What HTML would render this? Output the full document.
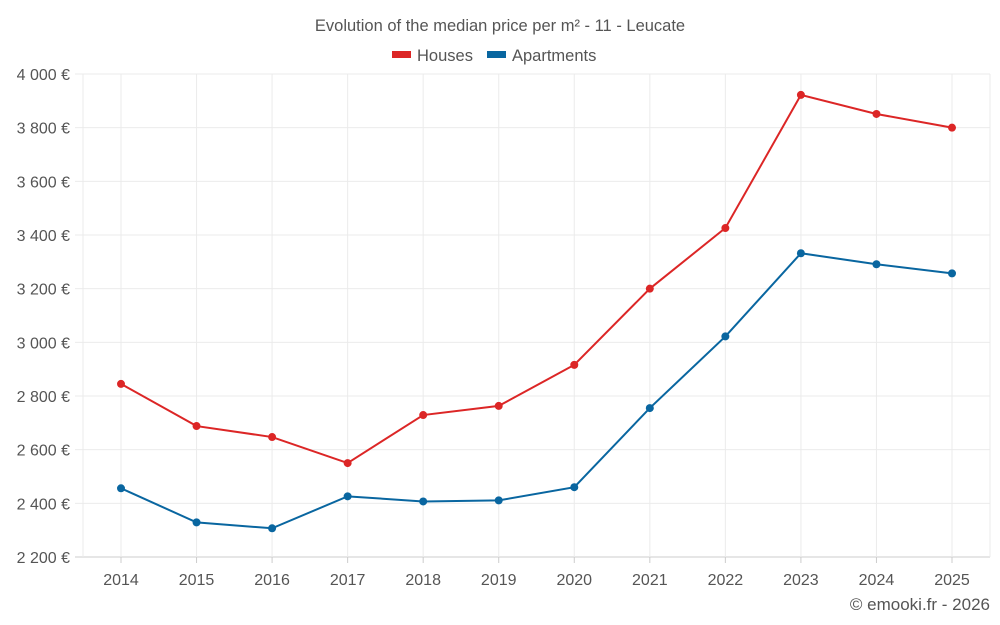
<!DOCTYPE html>
<html><head><meta charset="utf-8"><style>
body{margin:0;background:#fff;font-family:"Liberation Sans",sans-serif;}
svg{display:block}
</style></head><body>
<svg id="chart" width="1000" height="625">
<text x="500" y="31" text-anchor="middle" font-size="16.5" fill="#555">Evolution of the median price per m² - 11 - Leucate</text>
<g>
<g><rect x="392" y="51" width="19" height="7" fill="#dc2626"/><text x="417" y="61" font-size="16.5" fill="#555">Houses</text></g>
<g><rect x="487" y="51" width="19" height="7" fill="#0966a0"/><text x="512" y="61" font-size="16.5" fill="#555">Apartments</text></g>
</g>
<g id="grid"></g><g id="axes"></g><g id="series"></g>
<text x="990" y="610" text-anchor="end" font-size="17" fill="#555">© emooki.fr - 2026</text>
</svg>
<script>
const years=[2014,2015,2016,2017,2018,2019,2020,2021,2022,2023,2024,2025];
const houses=[2845,2688,2647,2550,2729,2763,2916,3200,3426,3922,3851,3800];
const apartments=[2456,2329,2307,2426,2407,2411,2460,2755,3022,3332,3291,3257];
const yTicks=[2200,2400,2600,2800,3000,3200,3400,3600,3800,4000];
const NS="http://www.w3.org/2000/svg";
const pLeft=83,pRight=990,pTop=74,pBottom=557,yMin=2200,yMax=4000;
const x0=121,x1=952;
const xs=i=>x0+(x1-x0)*i/(years.length-1);
const ys=v=>pBottom-(v-yMin)/(yMax-yMin)*(pBottom-pTop);
function el(t,a,p){const e=document.createElementNS(NS,t);for(const k in a)e.setAttribute(k,a[k]);p.appendChild(e);return e;}
const grid=document.getElementById('grid'),axes=document.getElementById('axes'),series=document.getElementById('series');
const fmt=v=>String(v).replace(/\B(?=(\d{3})+(?!\d))/g,' ')+' €';
yTicks.forEach(v=>{
 const l=el('line',{x1:pLeft-8,x2:pRight,y1:ys(v),y2:ys(v),stroke:v===yMin?'#ccc':'#ebebeb'},grid);
 
 
 const t=el('text',{x:70,y:ys(v)+6,'text-anchor':'end','font-size':16,fill:'#555'},axes);
 t.textContent=fmt(v);
 
 
});
[pLeft,pRight].forEach(x=>{const l=el('line',{x1:x,x2:x,y1:pTop,y2:pBottom,stroke:'#ebebeb'},grid);
 
 });
years.forEach((y,i)=>{
 const g=el('line',{x1:xs(i),x2:xs(i),y1:pTop,y2:pBottom,stroke:'#ebebeb'},grid);
 
 
 const tk=el('line',{x1:xs(i),x2:xs(i),y1:pBottom,y2:pBottom+6,stroke:'#ccc'},axes);
 
 
 const t=el('text',{x:xs(i),y:585,'text-anchor':'middle','font-size':16,fill:'#555'},axes);
 t.textContent=y;
 
 
});
function draw(vals,color,name){
 const p=el('polyline',{points:vals.map((v,i)=>xs(i)+','+ys(v)).join(' '),fill:'none',stroke:color,'stroke-width':2},series);
 
 
 vals.forEach((v,i)=>{const c=el('circle',{cx:xs(i),cy:ys(v),r:4,fill:color},series);
 
 });
}
draw(houses,'#dc2626','houses');
draw(apartments,'#0966a0','apartments');
</script>
</body></html>
